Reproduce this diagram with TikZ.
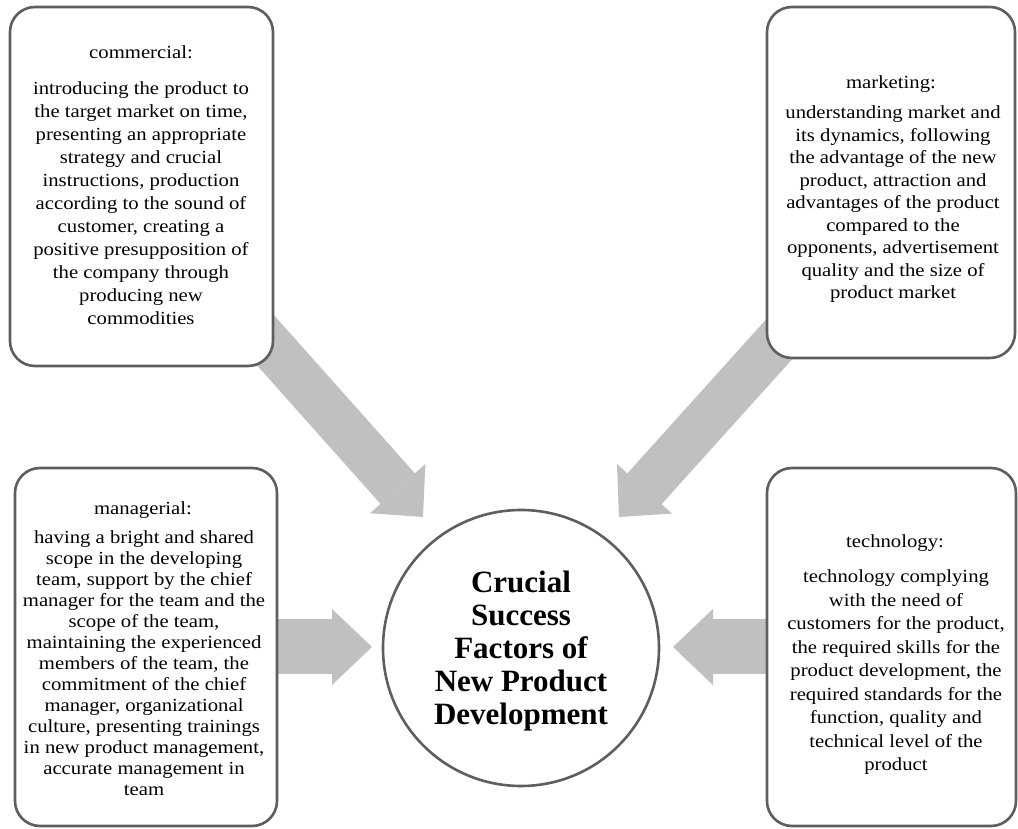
\documentclass[tikz,border=0pt]{standalone}
\usepackage{fontspec}
\setmainfont{Liberation Serif}
\newfontfamily\boxfont[FakeStretch=1.12]{Liberation Serif}
\usetikzlibrary{arrows.meta,backgrounds,calc}
\definecolor{arrowgray}{HTML}{C0C0C0}
\definecolor{edgegray}{HTML}{5E5E5E}
\begin{document}
\begin{tikzpicture}[x=1pt,y=1pt,
  factorbox/.style={draw=edgegray,line width=2.6pt,fill=white,rounded corners=25pt,inner sep=0pt},
  hubcircle/.style={circle,draw=edgegray,line width=2.6pt,fill=white,minimum size=276pt,inner sep=0pt},
  headtext/.style={font=\boxfont\fontsize{18.5}{22}\selectfont,inner sep=0pt,anchor=base},
  bodytext/.style={font=\boxfont\fontsize{18.5}{#1}\selectfont,align=center,inner sep=0pt,anchor=north},
  hubtext/.style={font=\bfseries\fontsize{31}{33}\selectfont,align=center,inner sep=0pt},
  diagarrow/.style={draw=arrowgray,line width=46pt,-{Triangle[length=38pt,width=74pt,line width=0pt]}},
  horizarrow/.style={draw=arrowgray,line width=55pt,-{Triangle[length=40pt,width=76pt,line width=0pt]}}]
\useasboundingbox (0,0) rectangle (1018,828);
\begin{pgfonlayer}{background}
\fill[white] (0,0) rectangle (1018,828);
\end{pgfonlayer}

% boxes
\node[factorbox,minimum width=263pt,minimum height=359pt] (commercial) at (141.5,641.5) {};
\node[factorbox,minimum width=248pt,minimum height=351pt] (marketing) at (891,645.5) {};
\node[factorbox,minimum width=262pt,minimum height=358pt] (managerial) at (146,181) {};
\node[factorbox,minimum width=249pt,minimum height=358pt] (technology) at (891.5,181) {};
\node[hubcircle] (hub) at (521,180) {};

% texts
\node[headtext] (commercialHead) at (141,769) {commercial:};
\node[bodytext=23] (commercialBody) at (141,746.5) {introducing the product to\\the target market on time,\\presenting an appropriate\\strategy and crucial\\instructions, production\\according to the sound of\\customer, creating a\\positive presupposition of\\the company through\\producing new\\commodities};

\node[headtext] (marketingHead) at (891,739) {marketing:};
\node[bodytext=22.5] (marketingBody) at (893,722.5) {understanding market and\\its dynamics, following\\the advantage of the new\\product, attraction and\\advantages of the product\\compared to the\\opponents, advertisement\\quality and the size of\\product market};

\node[headtext] (managerialHead) at (143,313) {managerial:};
\node[bodytext=21] (managerialBody) at (144,297.5) {having a bright and shared\\scope in the developing\\team, support by the chief\\manager for the team and the\\scope of the team,\\maintaining the experienced\\members of the team, the\\commitment of the chief\\manager, organizational\\culture, presenting trainings\\in new product management,\\accurate management in\\team};

\node[headtext] (technologyHead) at (895,280) {technology:};
\node[bodytext=23.5] (technologyBody) at (896,258.5) {technology complying\\with the need of\\customers for the product,\\the required skills for the\\product development, the\\required standards for the\\function, quality and\\technical level of the\\product};

\node[hubtext] (hubText) at (521,177) {Crucial\\Success\\Factors of\\New Product\\Development};

% arrows
\coordinate (cTip) at (423,311);
\coordinate (mTip) at (619,311);
\coordinate (gTip) at (372,181);
\coordinate (tTip) at (673,181);
\begin{pgfonlayer}{background}
\draw[diagarrow] ($(commercial.south east)+(-23,43)$) -- (cTip);
\draw[diagarrow] ($(marketing.south west)+(27,35)$) -- (mTip);
\draw[horizarrow] ($(managerial.east)+(-17,0)$) -- (gTip);
\draw[horizarrow] ($(technology.west)+(17,0)$) -- (tTip);
\end{pgfonlayer}
\end{tikzpicture}
\end{document}
